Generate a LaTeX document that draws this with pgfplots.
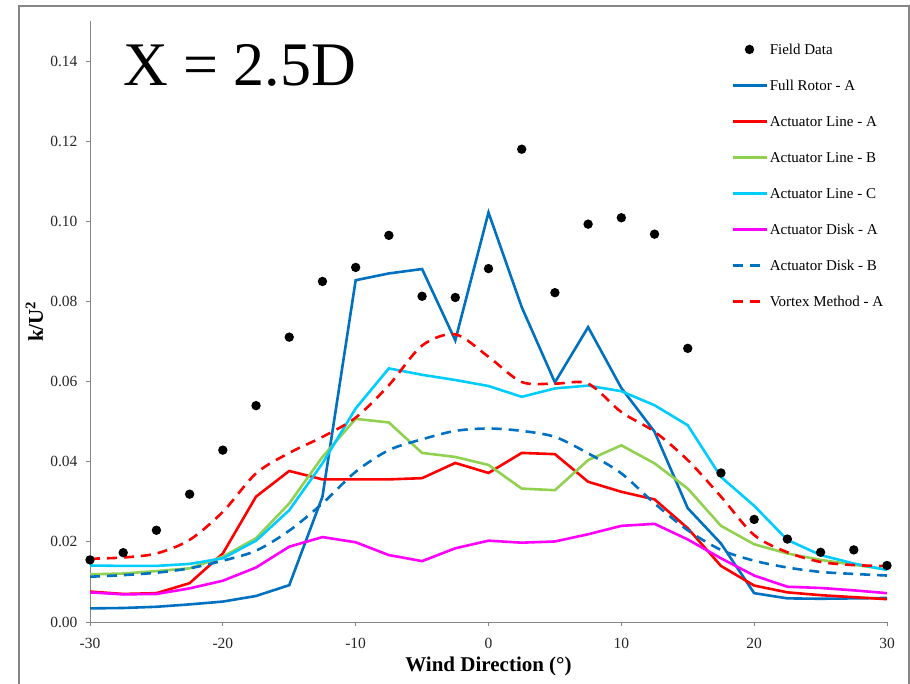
\documentclass[border=0pt]{standalone}
\usepackage{pgfplots}
\usepackage{pgfplotstable}
\pgfplotsset{compat=1.18}
\usepackage{fontspec}
\setmainfont{Liberation Serif}
\definecolor{frblue}{HTML}{0070C0}
\definecolor{algreen}{HTML}{92D050}
\definecolor{alcyan}{HTML}{00CCFF}
\definecolor{admag}{HTML}{FF00FF}
\definecolor{axgray}{HTML}{868686}

\pgfplotstableread{
x fd fr ala alb alc ada adb vm
-30 0.0155 0.0034 0.0076 0.0119 0.0141 0.0074 0.0113 0.0158
-27.5 0.0173 0.0035 0.0070 0.0121 0.0140 0.0069 0.0117 0.0161
-25 0.0229 0.0038 0.0072 0.0127 0.0140 0.0070 0.0123 0.0171
-22.5 0.0319 0.0044 0.0097 0.0134 0.0145 0.0084 0.0134 0.0205
-20 0.0429 0.0051 0.0171 0.0163 0.0159 0.0103 0.0153 0.0275
-17.5 0.0540 0.0065 0.0313 0.0209 0.0203 0.0136 0.0178 0.0371
-15 0.0711 0.0092 0.0377 0.0296 0.0279 0.0188 0.0228 0.0422
-12.5 0.0850 0.0313 0.0356 0.0412 0.0396 0.0212 0.0296 0.0462
-10 0.0885 0.0853 0.0356 0.0507 0.0533 0.0199 0.0375 0.0510
-7.5 0.0965 0.0870 0.0356 0.0498 0.0633 0.0167 0.0429 0.0591
-5 0.0813 0.0881 0.0359 0.0422 0.0617 0.0152 0.0456 0.0690
-2.5 0.0810 0.0703 0.0397 0.0412 0.0604 0.0184 0.0477 0.0718
0 0.0882 0.1022 0.0372 0.0392 0.0589 0.0203 0.0483 0.0662
2.5 0.1180 0.0786 0.0422 0.0333 0.0562 0.0198 0.0477 0.0599
5 0.0822 0.0598 0.0419 0.0329 0.0583 0.0201 0.0462 0.0595
7.5 0.0993 0.0736 0.0350 0.0404 0.0590 0.0219 0.0421 0.0595
10 0.1009 0.0584 0.0325 0.0441 0.0576 0.0240 0.0371 0.0524
12.5 0.0968 0.0475 0.0306 0.0396 0.0541 0.0245 0.0296 0.0475
15 0.0683 0.0284 0.0234 0.0333 0.0491 0.0206 0.0229 0.0404
17.5 0.0372 0.0196 0.0140 0.0240 0.0362 0.0159 0.0180 0.0313
20 0.0256 0.0072 0.0091 0.0194 0.0290 0.0116 0.0153 0.0217
22.5 0.0207 0.0059 0.0074 0.0171 0.0205 0.0088 0.0136 0.0174
25 0.0174 0.0058 0.0067 0.0155 0.0167 0.0085 0.0125 0.0150
27.5 0.0180 0.0059 0.0062 0.0143 0.0146 0.0079 0.0120 0.0142
30 0.0141 0.0060 0.0057 0.0131 0.0130 0.0072 0.0116 0.0140
}\data

\begin{document}
\begin{tikzpicture}[x=1pt,y=1pt]
\useasboundingbox (0,0) rectangle (910,-683);
\draw[axgray, line width=1.3pt] (19,-700) -- (19,-6) -- (909,-6) -- (909,-700);
\node[anchor=base west, inner sep=0pt, font=\fontsize{62}{70}\selectfont] at (123,-85) {X = 2.5D};
\begin{axis}[
  at={(90pt,-622pt)}, anchor=south west,
  scale only axis, width=797pt, height=601pt,
  xmin=-30, xmax=30, ymin=0, ymax=0.15,
  axis x line*=bottom, axis y line*=left,
  axis line style={axgray, line width=0.9pt},
  xtick={-30,-20,...,30}, ytick={0,0.02,0.04,0.06,0.08,0.10,0.12,0.14},
  tick align=outside, major tick length=4pt,
  tick style={axgray, line width=0.9pt},
  /pgf/number format/assume math mode=true,
  ticklabel style={font=\fontsize{15.5}{18}\selectfont, text=black!85},
  yticklabel style={xshift=-5pt, /pgf/number format/fixed, /pgf/number format/fixed zerofill, /pgf/number format/precision=2},
  xticklabel style={yshift=-9pt},
  xlabel={\textbf{Wind Direction (°)}},
  ylabel={\textbf{k/U\textsuperscript{2}}},
  xlabel style={at={(axis description cs:0.5,-0.083)}, anchor=base, font=\fontsize{21}{24}\selectfont},
  ylabel style={at={(axis description cs:-0.059,0.5)}, anchor=base, font=\fontsize{21}{24}\selectfont},
  legend style={at={(axis description cs:0.8005,0.968)}, anchor=north west, draw=none, fill=none,
    font=\fontsize{15}{18}\selectfont, row sep=19pt,
    nodes={inner sep=2pt, text height=10pt, text depth=3pt}},
  legend cell align=left,
  legend image code/.code={\draw[mark repeat=2,mark phase=2,#1] plot coordinates {(0pt,1.5pt) (17pt,1.5pt) (34pt,1.5pt)};},
  every axis plot/.append style={line width=2.6pt},
]
\addplot[only marks, mark=*, mark size=3.3pt, black] table[x=x,y=fd]{\data};
\addlegendentry{Field Data}
\addplot[frblue, no marks] table[x=x,y=fr]{\data};
\addlegendentry{Full Rotor - A}
\addplot[red, no marks] table[x=x,y=ala]{\data};
\addlegendentry{Actuator Line - A}
\addplot[algreen, no marks] table[x=x,y=alb]{\data};
\addlegendentry{Actuator Line - B}
\addplot[alcyan, no marks] table[x=x,y=alc]{\data};
\addlegendentry{Actuator Line - C}
\addplot[admag, no marks] table[x=x,y=ada]{\data};
\addlegendentry{Actuator Disk - A}
\addplot[frblue, no marks, dash pattern=on 10pt off 7pt, smooth, tension=0.5] table[x=x,y=adb]{\data};
\addlegendentry{Actuator Disk - B}
\addplot[red, no marks, dash pattern=on 10pt off 7pt, smooth, tension=0.5] table[x=x,y=vm]{\data};
\addlegendentry{Vortex Method - A}
\end{axis}
\end{tikzpicture}
\end{document}
